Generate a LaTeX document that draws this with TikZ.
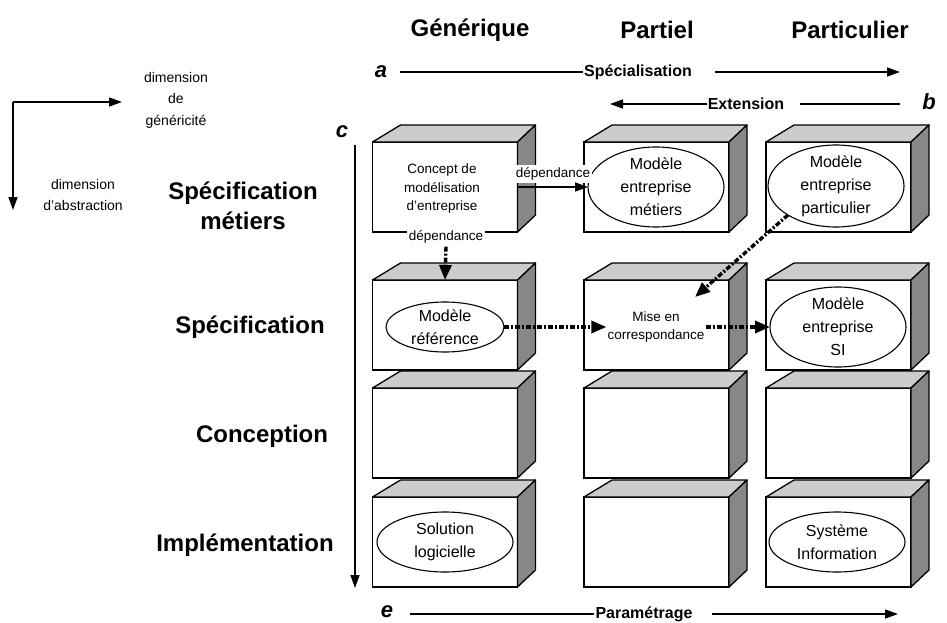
\documentclass[tikz,border=0pt]{standalone}
\usepackage{fontspec}
\setmainfont{Liberation Sans}
\usetikzlibrary{arrows.meta,shapes.geometric,calc}
\tikzset{
  frontbox/.style={draw,fill=white,line width=1.3pt,minimum width=145pt,minimum height=90pt,inner sep=0pt,outer sep=0pt},
  topface/.style={draw,fill=black!20,line width=1.3pt,line join=round},
  sideface/.style={draw,fill=black!47,line width=1.3pt,line join=round},
  ellbox/.style={draw,ellipse,line width=1.1pt,inner sep=0pt,outer sep=0pt},
  elltext/.style={align=center,inner sep=1pt,font=\fontsize{16}{23}\selectfont},
  smalltext/.style={align=center,inner sep=1pt,font=\fontsize{13.5}{18.5}\selectfont},
  deplabel/.style={fill=white,inner xsep=2pt,inner ysep=3pt,font=\fontsize{13.5}{16}\selectfont},
  header/.style={font=\fontsize{24}{28}\selectfont\bfseries},
  rowlabel/.style={align=center,font=\fontsize{24}{30}\selectfont\bfseries},
  axlabel/.style={inner sep=1pt,font=\fontsize{16}{18}\selectfont\bfseries},
  axletter/.style={inner sep=0pt,font=\fontsize{22}{24}\selectfont\bfseries\itshape},
  dimtext/.style={align=center,font=\fontsize{14}{21.5}\selectfont},
  arr/.style={line width=1.4pt,-{Triangle[length=13pt,width=9pt]}},
  plain/.style={line width=1.4pt},
  dotarr/.style={line width=3.4pt,dash pattern=on 5pt off 2pt on 2pt off 2pt,-{Triangle[length=15pt,width=12pt]}}
}
\newcommand\mkcube[3]{%
  \node[frontbox] (#1) at (#2,#3) {};
  \filldraw[topface] (#1.north west) -- ++(28,-17) -- ([shift={(18,-17)}]#1.north east) -- (#1.north east) -- cycle;
  \filldraw[sideface] (#1.north east) -- ++(18,-17) -- ([shift={(18,-17)}]#1.south east) -- (#1.south east) -- cycle;
}
\begin{document}
\begin{tikzpicture}[x=1pt,y=-1pt]
\useasboundingbox (0,0) rectangle (947,623);

% column headers
\node[header] (hg) at (470,30) {Générique};
\node[header] (hp) at (657,30) {Partiel};
\node[header] (hq) at (850,30) {Particulier};

% dimension legend
\coordinate (dimc) at (13,102);
\coordinate (dimr) at (122,102);
\coordinate (dimd) at (13,210);
\draw[arr] (dimc) -- (dimr);
\draw[arr] (dimc) -- (dimd);
\node[dimtext] (dg) at (176,100) {dimension\\de\\généricité};
\node[dimtext] (da) at (83,195) {dimension\\d'abstraction};

% row labels
\node[rowlabel] (r1) at (243,206) {Spécification\\métiers};
\node[rowlabel] (r2) at (250,327) {Spécification};
\node[rowlabel] (r3) at (262,436) {Conception};
\node[rowlabel] (r4) at (245,545) {Implémentation};

% axis a : Spécialisation
\node[axletter] (la) at (381,72) {a};
\coordinate (a0) at (400,72);
\coordinate (a1) at (900,72);
\node[axlabel] (spec) at (638,72) {Spécialisation};
\draw[plain] (a0) -- (spec.west);
\draw[arr] ([xshift=22pt]spec.east) -- (a1);

% axis b : Extension
\node[axletter] (lb) at (929,102) {b};
\coordinate (b0) at (900,104);
\coordinate (b1) at (610,104);
\node[axlabel] (ext) at (746,104) {Extension};
\draw[plain] (b0) -- ([xshift=15pt]ext.east);
\draw[arr] (ext.west) -- (b1);

% axis c
\node[axletter] (lc) at (342,132) {c};
\coordinate (c0) at (355,145);
\coordinate (c1) at (355,588);
\draw[arr] (c0) -- (c1);

% axis e : Paramétrage
\node[axletter] (le) at (387,612) {e};
\coordinate (e0) at (410,614);
\coordinate (e1) at (898,614);
\node[axlabel] (par) at (644,614) {Paramétrage};
\draw[plain] (e0) -- (par.west);
\draw[arr] ([xshift=18pt]par.east) -- (e1);

% cubes
\mkcube{b11}{445}{187}
\mkcube{b12}{656.5}{187}
\mkcube{b13}{838.5}{187}
\mkcube{b21}{445}{325}
\mkcube{b22}{656.5}{325}
\mkcube{b23}{838.5}{325}
\mkcube{b31}{445}{433}
\mkcube{b32}{656.5}{433}
\mkcube{b33}{838.5}{433}
\mkcube{b41}{445}{542}
\mkcube{b42}{656.5}{542}
\mkcube{b43}{838.5}{542}

% contents
\node[smalltext] (t11) at (442,189) {Concept de\\modélisation\\d'entreprise};
\node[ellbox,minimum width=136pt,minimum height=80pt] (e12) at (656,187) {};
\node[elltext] (t12) at (e12) {Modèle\\entreprise\\métiers};
\node[ellbox,minimum width=136pt,minimum height=82pt] (e13) at (836,186) {};
\node[elltext] (t13) at (e13) {Modèle\\entreprise\\particulier};
\node[ellbox,minimum width=118pt,minimum height=50pt] (e21) at (445,327) {};
\node[elltext] (t21) at (e21) {Modèle\\référence};
\node[smalltext] (t22) at (656,327) {Mise en\\correspondance};
\node[ellbox,minimum width=136pt,minimum height=80pt] (e23) at (838,327) {};
\node[elltext] (t23) at (e23) {Modèle\\entreprise\\SI};
\node[ellbox,minimum width=136pt,minimum height=60pt] (e41) at (445,542) {};
\node[elltext] (t41) at (e41) {Solution\\logicielle};
\node[ellbox,minimum width=136pt,minimum height=60pt] (e43) at (837,542) {};
\node[elltext] (t43) at (e43) {Système\\Information};

% dependance labels and arrows
\node[deplabel] (dep1) at (553,174) {dépendance};
\node[deplabel] (dep2) at (446,237) {dépendance};
\draw[arr] (b11.east) -- (e12.west);
\draw[dotarr] (dep2.south) -- (b21.north);
\draw[dotarr] (e21.east) -- (t22.west);
\draw[dotarr] (t22.east) -- (e23.west);
\coordinate (mc) at (695,297);
\draw[dotarr] (e13.south west) -- (mc);
\end{tikzpicture}
\end{document}
